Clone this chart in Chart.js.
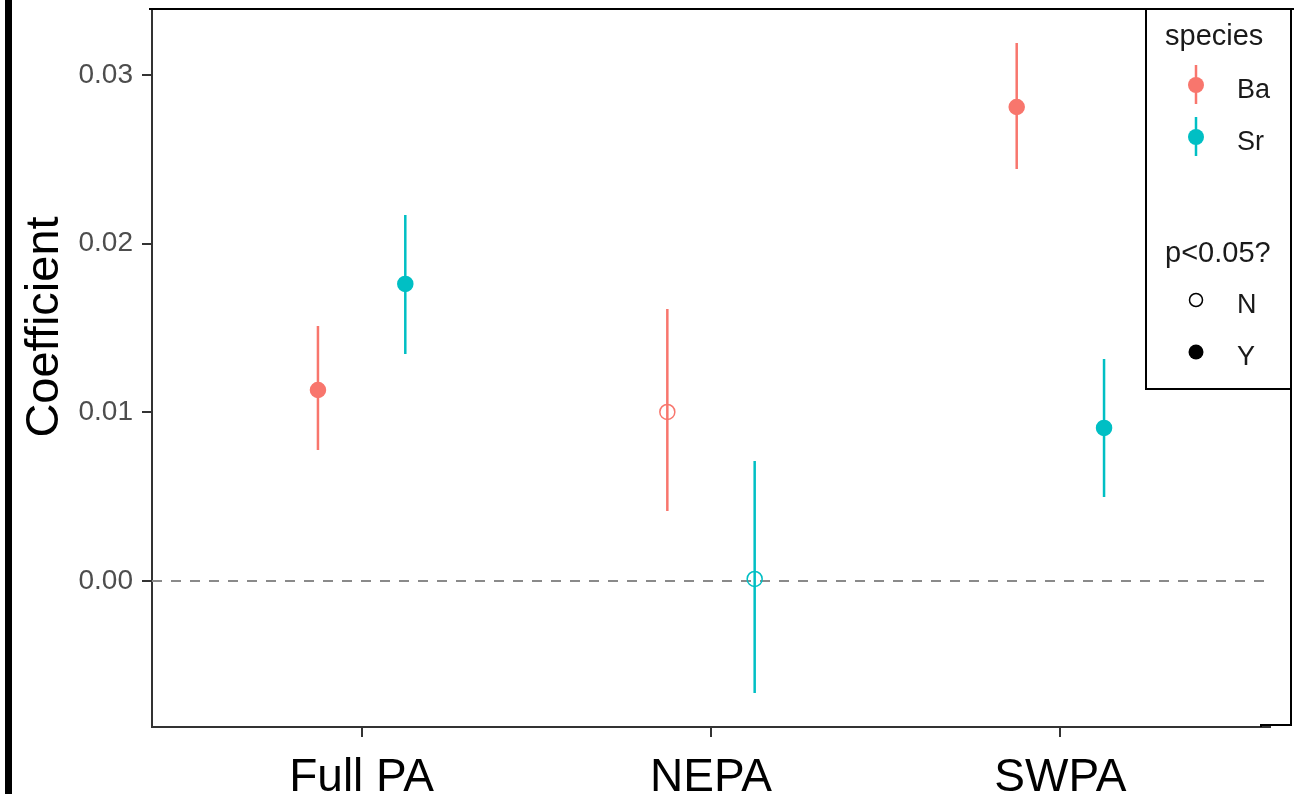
<!DOCTYPE html>
<html>
<head>
<meta charset="UTF-8">
<title>Coefficient</title>
<script src="https://cdn.jsdelivr.net/npm/chart.js@4"></script>
<style>
  body{ margin:0; background:#fff; }
  #wrap{ width:1294px; height:794px; }
</style>
</head>
<body>
<div id="wrap"><canvas id="myChart" width="1294" height="794"></canvas></div>
<script>
// regions on the x axis, one estimate + interval per species
var regions = ['Full PA', 'NEPA', 'SWPA']
var species = ['Ba', 'Sr']

var baEst  = [0.01132, 0.01002, 0.02810]
var baLow  = [0.00777, 0.00415, 0.02443]
var baHigh = [0.01512, 0.01613, 0.03190]
var baSig  = ['Y', 'N', 'Y']

var srEst  = [0.01761, 0.00012, 0.00907]
var srLow  = [0.01346, -0.00664, 0.00498]
var srHigh = [0.02170, 0.00711, 0.01316]
var srSig  = ['Y', 'N', 'Y']

var yTicks = [0, 0.01, 0.02, 0.03]

var colBa = '#F8766D'
var colSr = '#00BFC4'
var dodge = 0.125
var FONT = "'Liberation Sans', Arial, sans-serif"

// vertical interval segments, broken apart with null points
var barData = function(low, high, off) {
	var d = []
	low.forEach(function(l, i) {
		var x = i + 1 + off
		d.push({x: x, y: l}, {x: x, y: high[i]}, {x: x, y: null})
	})
	return d
}
var pointData = function(est, off) {
	return est.map(function(v, i) { return {x: i + 1 + off, y: v} })
}
var fills = function(sig, col) {
	return sig.map(function(s) { return s == 'Y' ? col : 'rgba(0,0,0,0)' })
}

// frame, legend and y title
var decor = {
	id: 'decor',
	afterDraw: function(chart) {
		var ctx = chart.ctx
		ctx.save()
		ctx.fillStyle = '#000'
		ctx.fillRect(5, 0, 7, 794)

		ctx.strokeStyle = '#000'
		ctx.lineWidth = 2
		ctx.beginPath()
		ctx.moveTo(149, 9); ctx.lineTo(1294, 9)
		ctx.moveTo(1291, 9); ctx.lineTo(1291, 725)
		ctx.lineTo(1261, 725); ctx.lineTo(1261, 727)
		ctx.stroke()

		// legend box
		ctx.fillStyle = '#fff'
		ctx.fillRect(1147, 10, 143, 378)
		ctx.beginPath()
		ctx.moveTo(1146, 9); ctx.lineTo(1146, 389); ctx.lineTo(1291, 389)
		ctx.stroke()

		ctx.fillStyle = '#1a1a1a'
		ctx.textAlign = 'left'
		ctx.textBaseline = 'alphabetic'
		ctx.font = '29px ' + FONT
		ctx.fillText('species', 1165, 45)
		ctx.fillText('p<0.05?', 1165, 262)

		var keys = [[colBa, 85], [colSr, 137]]
		keys.forEach(function(k, i) {
			ctx.strokeStyle = k[0]
			ctx.fillStyle = k[0]
			ctx.lineWidth = 2.5
			ctx.beginPath()
			ctx.moveTo(1196, k[1] - 20); ctx.lineTo(1196, k[1] + 19)
			ctx.stroke()
			ctx.beginPath()
			ctx.arc(1196, k[1], 8, 0, Math.PI * 2)
			ctx.fill()
			ctx.fillStyle = '#1a1a1a'
			ctx.font = '27px ' + FONT
			ctx.fillText(species[i], 1237, k[1] + 13)
		})

		ctx.strokeStyle = '#000'
		ctx.lineWidth = 1.5
		ctx.beginPath()
		ctx.arc(1196, 300, 6.5, 0, Math.PI * 2)
		ctx.stroke()
		ctx.fillStyle = '#000'
		ctx.beginPath()
		ctx.arc(1196, 352, 7.5, 0, Math.PI * 2)
		ctx.fill()
		ctx.fillStyle = '#1a1a1a'
		ctx.font = '27px ' + FONT
		ctx.fillText('N', 1237, 313)
		ctx.fillText('Y', 1237, 365)

		// y axis title
		ctx.translate(45, 327)
		ctx.rotate(-Math.PI / 2)
		ctx.textAlign = 'center'
		ctx.textBaseline = 'middle'
		ctx.fillStyle = '#000'
		ctx.font = '47px ' + FONT
		ctx.fillText('Coefficient', 0, 0)
		ctx.restore()
	}
}

var ctx = document.getElementById('myChart').getContext('2d')
var chart = new Chart(ctx, {
	type: 'scatter',
	data: {
		datasets: [{
			label: 'Ba',
			data: pointData(baEst, -dodge),
			pointRadius: 7.5,
			pointBorderWidth: 1.5,
			pointBorderColor: colBa,
			pointBackgroundColor: fills(baSig, colBa)
		}, {
			label: 'Sr',
			data: pointData(srEst, dodge),
			pointRadius: 7.5,
			pointBorderWidth: 1.5,
			pointBorderColor: colSr,
			pointBackgroundColor: fills(srSig, colSr)
		}, {
			type: 'line',
			data: barData(baLow, baHigh, -dodge),
			borderColor: colBa,
			borderWidth: 2.5,
			pointRadius: 0,
			spanGaps: false
		}, {
			type: 'line',
			data: barData(srLow, srHigh, dodge),
			borderColor: colSr,
			borderWidth: 2.5,
			pointRadius: 0,
			spanGaps: false
		}, {
			type: 'line',
			data: [{x: 0.4, y: 0}, {x: 3.6, y: 0}],
			borderColor: '#8a8a8a',
			borderWidth: 2,
			borderDash: [10, 9],
			pointRadius: 0
		}]
	},
	options: {
		responsive: false,
		animation: false,
		devicePixelRatio: 1,
		layout: { padding: { top: 10, right: 24, left: 0, bottom: 0 } },
		plugins: { legend: { display: false }, tooltip: { enabled: false } },
		scales: {
			x: {
				type: 'linear',
				min: 0.4,
				max: 3.6,
				afterBuildTicks: function(s) {
					s.ticks = regions.map(function(r, i) { return {value: i + 1} })
				},
				afterFit: function(s) {
					s.height = 67
					s.paddingLeft = 0
					s.paddingRight = 0
				},
				ticks: {
					callback: function(v) { return regions[v - 1] },
					color: '#000',
					font: { family: FONT, size: 46 },
					padding: 14,
					autoSkip: false,
					maxRotation: 0
				},
				grid: { drawOnChartArea: false, tickLength: 10, color: '#333', lineWidth: 2 },
				border: { color: '#333', width: 2 }
			},
			y: {
				min: -0.00866,
				max: 0.03385,
				afterBuildTicks: function(s) {
					s.ticks = yTicks.map(function(v) { return {value: v} })
				},
				afterFit: function(s) {
					s.width = 152
					s.paddingTop = 0
					s.paddingBottom = 0
				},
				ticks: {
					callback: function(v) { return v.toFixed(2) },
					color: '#4d4d4d',
					font: { family: FONT, size: 28 },
					padding: 9
				},
				grid: { drawOnChartArea: false, tickLength: 10, color: '#333', lineWidth: 2 },
				border: { color: '#333', width: 2 }
			}
		}
	},
	plugins: [decor]
})
</script>
</body>
</html>
